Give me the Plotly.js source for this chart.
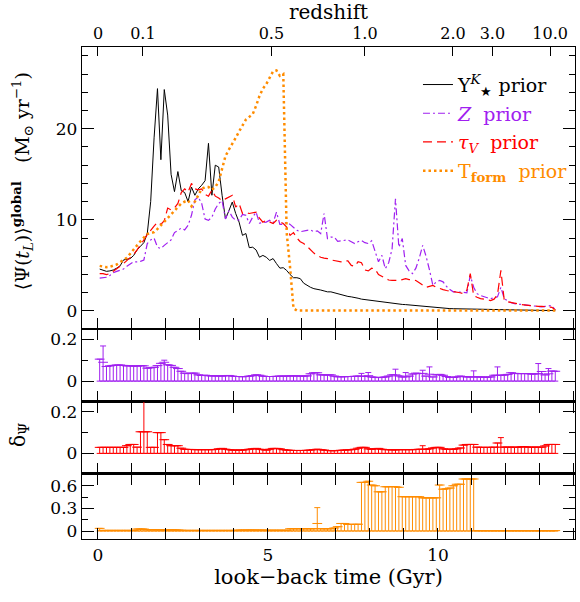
<!DOCTYPE html>
<html>
<head>
<meta charset="utf-8">
<script src="https://cdn.plot.ly/plotly-3.0.1.min.js"></script>
<style>
  html, body { margin: 0; padding: 0; background: #fff; }
  #chart { width: 580px; height: 602px; }
</style>
</head>
<body>
<div id="chart"></div>
<script>
// Look-back time bin centres (Gyr)
const tGyr = [
  0.05, 0.15, 0.25, 0.35, 0.45, 0.55, 0.65, 0.75, 0.85, 0.95,
  1.05, 1.15, 1.25, 1.35, 1.45, 1.55, 1.65, 1.75, 1.85, 1.95,
  2.05, 2.15, 2.25, 2.35, 2.45, 2.55, 2.65, 2.75, 2.85, 2.95,
  3.05, 3.15, 3.25, 3.35, 3.45, 3.55, 3.65, 3.75, 3.85, 3.95,
  4.05, 4.15, 4.25, 4.35, 4.45, 4.55, 4.65, 4.75, 4.85, 4.95,
  5.05, 5.15, 5.25, 5.35, 5.45, 5.55, 5.65, 5.75, 5.85, 5.95,
  6.05, 6.15, 6.25, 6.35, 6.45, 6.55, 6.65, 6.75, 6.85, 6.95,
  7.05, 7.15, 7.25, 7.35, 7.45, 7.55, 7.65, 7.75, 7.85, 7.95,
  8.05, 8.15, 8.25, 8.35, 8.45, 8.55, 8.65, 8.75, 8.85, 8.95,
  9.05, 9.15, 9.25, 9.35, 9.45, 9.55, 9.65, 9.75, 9.85, 9.95,
  10.05, 10.15, 10.25, 10.35, 10.45, 10.55, 10.65, 10.75, 10.85, 10.95,
  11.05, 11.15, 11.25, 11.35, 11.45, 11.55, 11.65, 11.75, 11.85, 11.95,
  12.05, 12.15, 12.25, 12.35, 12.45, 12.55, 12.65, 12.75, 12.85, 12.95,
  13.05, 13.15, 13.25, 13.35, 13.45
];

// Global star formation history <Psi(t_L)> (Msun/yr) for each prior
const sfrUpsilon = [
  4.6, 4.5, 4.35, 4.4, 4.5, 4.7, 4.95, 5.6, 5.65, 5.75,
  6.1, 6.7, 7.1, 7.5, 8.5, 12.0, 19.0, 24.4, 16.6, 24.3,
  21.5, 15.0, 13.1, 15.3, 13.2, 13.0, 12.0, 13.6, 12.7, 13.4,
  13.8, 14.3, 18.4, 12.7, 16.0, 15.8, 12.7, 10.1, 11.0, 11.95,
  10.7, 9.75, 8.3, 8.5, 6.95, 7.0, 6.7, 5.9, 6.1, 5.9,
  5.55, 5.75, 5.2, 4.7, 4.75, 4.45, 4.0, 3.65, 3.65, 3.55,
  3.05, 2.8, 2.6, 2.45, 2.4, 2.3, 2.2, 2.1, 2.1, 2.0,
  1.9, 1.75, 1.65, 1.6, 1.55, 1.5, 1.4, 1.3, 1.25, 1.15,
  1.1, 1.05, 1.0, 0.95, 0.9, 0.85, 0.82, 0.78, 0.75, 0.72,
  0.7, 0.66, 0.63, 0.6, 0.57, 0.55, 0.52, 0.48, 0.45, 0.38,
  0.3, 0.28, 0.27, 0.26, 0.25, 0.24, 0.23, 0.22, 0.22, 0.21,
  0.2, 0.19, 0.18, 0.18, 0.17, 0.16, 0.16, 0.15, 0.15, 0.14,
  0.13, 0.12, 0.12, 0.11, 0.1, 0.1, 0.09, 0.08, 0.08, 0.07,
  0.07, 0.06, 0.05, 0.05, 0.04
];
const sfrZ = [
  3.6, 3.65, 3.7, 3.9, 4.2, 4.35, 4.45, 4.6, 4.9, 5.2,
  5.4, 5.4, 5.45, 5.6, 7.4, 7.8, 8.0, 7.0, 6.85, 7.2,
  7.5, 7.8, 8.6, 8.9, 9.1, 8.9, 9.4, 10.5, 12.2, 12.5,
  11.8, 10.1, 9.95, 10.3, 11.2, 11.8, 12.1, 10.1, 11.0, 10.3,
  9.95, 10.0, 10.6, 10.5, 9.6, 10.3, 10.85, 9.65, 9.7, 9.75,
  9.95, 9.65, 10.85, 9.5, 9.5, 9.75, 9.5, 9.2, 8.85, 8.7,
  8.8, 8.85, 8.9, 8.7, 8.8, 8.5, 10.7, 7.95, 8.1, 8.1,
  7.65, 7.7, 7.75, 7.8, 7.6, 7.4, 7.6, 7.75, 7.5, 7.4,
  7.7, 6.5, 5.4, 6.1, 4.65, 5.3, 6.8, 12.3, 7.0, 7.95,
  5.0, 4.4, 4.1, 4.7, 5.8, 7.2, 6.0, 4.5, 2.8, 3.2,
  3.35, 3.2, 2.7, 2.35, 2.1, 2.1, 2.1, 2.05, 2.0, 3.9,
  2.6, 1.9, 1.7, 1.55, 1.45, 1.35, 1.45, 1.55, 2.6, 1.35,
  1.1, 0.9, 0.8, 0.75, 0.7, 0.65, 0.6, 0.55, 0.5, 0.45,
  0.45, 0.5, 0.55, 0.6, 0.1
];
const sfrTauV = [
  4.1, 4.1, 4.0, 4.1, 4.35, 4.6, 4.9, 5.2, 5.5, 5.85,
  6.2, 6.7, 7.2, 7.8, 8.4, 8.9, 9.3, 9.75, 9.5, 9.9,
  11.3, 11.1, 11.3, 11.8, 13.0, 13.4, 13.05, 14.0, 13.4, 13.3,
  13.4, 12.8, 12.6, 13.25, 12.6, 12.4, 12.1, 12.3, 12.5, 12.7,
  11.4, 11.8, 10.7, 10.8, 10.7, 10.8, 10.85, 10.2, 9.75, 9.95,
  9.8, 9.6, 9.95, 9.8, 9.6, 9.2, 8.3, 8.6, 8.0, 7.6,
  7.4, 7.1, 6.7, 6.35, 6.1, 5.9, 5.8, 5.75, 5.6, 5.55,
  5.45, 5.4, 5.5, 5.5, 5.0, 4.9, 5.4, 5.3, 4.5, 4.4,
  4.7, 4.6, 4.0, 3.8, 3.6, 3.4, 3.35, 3.35, 3.35, 3.45,
  3.55, 3.45, 3.4, 3.35, 3.1, 2.85, 2.6, 2.7, 2.8, 2.6,
  2.45, 2.35, 2.25, 2.2, 2.1, 2.05, 2.0, 1.9, 2.3, 4.1,
  1.7, 1.5, 1.35, 1.3, 1.2, 1.15, 1.3, 1.8, 4.45, 1.15,
  1.0, 0.95, 0.9, 0.8, 0.7, 0.65, 0.6, 0.58, 0.55, 0.5,
  0.5, 0.48, 0.45, 0.4, 0.1
];
const sfrTform = [
  4.95, 4.85, 4.8, 4.85, 5.0, 5.1, 5.35, 5.6, 5.85, 6.3,
  6.7, 7.2, 7.65, 8.05, 8.45, 8.55, 8.65, 9.0, 9.4, 9.8,
  10.3, 10.65, 11.05, 11.4, 11.8, 12.0, 12.15, 11.5, 12.0, 12.7,
  13.4, 13.6, 13.6, 13.3, 13.6, 14.2, 15.5, 17.0, 17.7, 18.3,
  19.0, 19.7, 20.3, 21.0, 21.3, 21.6, 22.5, 23.6, 24.4, 24.9,
  25.6, 26.3, 26.4, 25.8, 26.0, 8.6, 4.8, 0.3, 0.05, 0.05,
  0.05, 0.05, 0.05, 0.05, 0.05, 0.05, 0.05, 0.05, 0.05, 0.05,
  0.05, 0.05, 0.05, 0.05, 0.05, 0.05, 0.05, 0.05, 0.05, 0.05,
  0.05, 0.05, 0.05, 0.05, 0.05, 0.05, 0.05, 0.05, 0.05, 0.05,
  0.05, 0.05, 0.05, 0.05, 0.05, 0.05, 0.05, 0.05, 0.05, 0.05,
  0.05, 0.05, 0.05, 0.05, 0.05, 0.05, 0.05, 0.05, 0.05, 0.05,
  0.05, 0.05, 0.05, 0.05, 0.05, 0.05, 0.05, 0.05, 0.05, 0.05,
  0.05, 0.05, 0.05, 0.05, 0.05, 0.05, 0.05, 0.05, 0.05, 0.05,
  0.05, 0.05, 0.05, 0.05, 0.05
];

// Relative deviation delta_Psi of each prior, with extra upper error
const deltaZ = [
  0.105, 0.09, 0.07, 0.073, 0.075, 0.077, 0.077, 0.075, 0.073, 0.073,
  0.072, 0.072, 0.074, 0.073, 0.062, 0.064, 0.066, 0.074, 0.085, 0.09,
  0.078, 0.075, 0.066, 0.06, 0.047, 0.038, 0.036, 0.038, 0.038, 0.03,
  0.027, 0.028, 0.026, 0.025, 0.025, 0.025, 0.024, 0.026, 0.027, 0.024,
  0.022, 0.022, 0.021, 0.022, 0.024, 0.026, 0.03, 0.028, 0.024, 0.022,
  0.022, 0.022, 0.023, 0.024, 0.024, 0.024, 0.025, 0.025, 0.025, 0.024,
  0.024, 0.025, 0.035, 0.04, 0.04, 0.03, 0.03, 0.029, 0.03, 0.024,
  0.021, 0.021, 0.021, 0.022, 0.022, 0.023, 0.024, 0.024, 0.022, 0.026,
  0.02, 0.018, 0.017, 0.018, 0.02, 0.024, 0.03, 0.03, 0.025, 0.02,
  0.02, 0.024, 0.034, 0.038, 0.036, 0.037, 0.024, 0.033, 0.02, 0.03,
  0.032, 0.028, 0.022, 0.018, 0.018, 0.02, 0.024, 0.022, 0.02, 0.02,
  0.02, 0.02, 0.02, 0.019, 0.019, 0.02, 0.028, 0.028, 0.028, 0.029,
  0.032, 0.04, 0.037, 0.036, 0.036, 0.036, 0.036, 0.034, 0.034, 0.036,
  0.046, 0.03, 0.035, 0.048, 0.047
];
const deltaZErr = [
  0, 0.078, 0, 0, 0, 0, 0, 0, 0, 0,
  0, 0, 0, 0, 0, 0, 0, 0, 0, 0.01,
  0, 0, 0, 0, 0, 0, 0, 0, 0, 0,
  0, 0, 0, 0, 0, 0, 0, 0, 0, 0,
  0, 0, 0, 0, 0, 0, 0, 0, 0, 0,
  0, 0, 0, 0, 0, 0, 0, 0, 0, 0,
  0, 0, 0, 0, 0, 0, 0, 0, 0, 0,
  0, 0, 0, 0, 0, 0, 0, 0.013, 0, 0.015,
  0, 0, 0, 0, 0, 0, 0, 0.027, 0, 0,
  0.021, 0, 0, 0, 0, 0.015, 0, 0.035, 0, 0,
  0, 0, 0, 0, 0, 0, 0, 0, 0, 0,
  0.029, 0, 0, 0, 0, 0, 0, 0.04, 0, 0,
  0, 0, 0, 0, 0, 0, 0, 0, 0, 0.048,
  0, 0, 0.025, 0, 0
];
const deltaTauV = [
  0.029, 0.029, 0.029, 0.029, 0.029, 0.029, 0.029, 0.029, 0.037, 0.043,
  0.043, 0.03, 0.104, 0.104, 0.104, 0.029, 0.029, 0.1, 0.1, 0.066,
  0.043, 0.037, 0.037, 0.037, 0.025, 0.02, 0.019, 0.019, 0.018, 0.018,
  0.018, 0.018, 0.018, 0.018, 0.019, 0.022, 0.024, 0.02, 0.018, 0.016,
  0.016, 0.016, 0.016, 0.018, 0.02, 0.022, 0.024, 0.02, 0.018, 0.016,
  0.02, 0.024, 0.024, 0.022, 0.018, 0.016, 0.015, 0.014, 0.014, 0.014,
  0.014, 0.015, 0.016, 0.018, 0.02, 0.018, 0.016, 0.014, 0.013, 0.013,
  0.014, 0.015, 0.016, 0.017, 0.018, 0.02, 0.025, 0.029, 0.029, 0.022,
  0.02, 0.022, 0.024, 0.02, 0.018, 0.018, 0.017, 0.017, 0.018, 0.018,
  0.018, 0.018, 0.018, 0.019, 0.02, 0.02, 0.02, 0.022, 0.026, 0.029,
  0.029, 0.022, 0.02, 0.02, 0.02, 0.022, 0.026, 0.04, 0.043, 0.043,
  0.043, 0.03, 0.029, 0.029, 0.029, 0.029, 0.03, 0.05, 0.03, 0.03,
  0.03, 0.03, 0.03, 0.029, 0.032, 0.032, 0.03, 0.03, 0.03, 0.03,
  0.03, 0.036, 0.043, 0.043, 0.043
];
const deltaTauVErr = [
  0, 0, 0, 0, 0, 0, 0, 0, 0, 0,
  0, 0, 0, 0.2, 0, 0, 0, 0, 0, 0,
  0, 0, 0, 0, 0, 0, 0, 0, 0, 0,
  0, 0, 0, 0, 0, 0, 0, 0, 0, 0,
  0, 0, 0, 0, 0, 0, 0, 0, 0, 0,
  0, 0, 0, 0, 0, 0, 0, 0, 0, 0,
  0, 0, 0, 0, 0, 0, 0, 0, 0, 0,
  0, 0, 0, 0, 0, 0, 0, 0, 0, 0,
  0, 0, 0, 0, 0, 0, 0, 0, 0, 0,
  0, 0, 0, 0, 0, 0.017, 0, 0, 0, 0,
  0, 0, 0, 0, 0, 0, 0, 0, 0, 0,
  0, 0, 0, 0, 0, 0, 0, 0, 0.046, 0,
  0, 0, 0, 0, 0, 0, 0, 0, 0, 0,
  0, 0, 0, 0, 0
];
const deltaTform = [
  0.035, 0.008, 0.008, 0.008, 0.008, 0.008, 0.008, 0.008, 0.008, 0.008,
  0.008, 0.026, 0.026, 0.026, 0.018, 0.015, 0.018, 0.015, 0.015, 0.013,
  0.013, 0.015, 0.015, 0.013, 0.01, 0.008, 0.008, 0.008, 0.008, 0.008,
  0.008, 0.008, 0.008, 0.008, 0.008, 0.008, 0.008, 0.008, 0.008, 0.008,
  0.008, 0.012, 0.012, 0.012, 0.013, 0.013, 0.012, 0.012, 0.012, 0.01,
  0.01, 0.01, 0.01, 0.01, 0.01, 0.01, 0.03, 0.03, 0.03, 0.03,
  0.03, 0.03, 0.03, 0.03, 0.1, 0.03, 0.03, 0.03, 0.03, 0.04,
  0.057, 0.1, 0.1, 0.088, 0.088, 0.088, 0.09, 0.645, 0.645, 0.66,
  0.61, 0.6, 0.52, 0.52, 0.587, 0.587, 0.59, 0.587, 0.58, 0.455,
  0.455, 0.455, 0.455, 0.455, 0.455, 0.44, 0.44, 0.44, 0.44, 0.44,
  0.61, 0.555, 0.56, 0.57, 0.6, 0.62, 0.62, 0.69, 0.69, 0.69,
  0.69, 0.005, 0.005, 0.005, 0.005, 0.005, 0.005, 0.005, 0.005, 0.005,
  0.005, 0.005, 0.005, 0.005, 0.005, 0.005, 0.005, 0.005, 0.005, 0.005,
  0.005, 0.005, 0.005, 0.005, 0.005
];
const deltaTformErr = [
  0, 0, 0, 0, 0, 0, 0, 0, 0, 0,
  0, 0, 0, 0, 0, 0, 0, 0, 0, 0,
  0, 0, 0, 0, 0, 0, 0, 0, 0, 0,
  0, 0, 0, 0, 0, 0, 0, 0, 0, 0,
  0, 0, 0, 0, 0, 0, 0, 0, 0, 0,
  0, 0, 0, 0, 0, 0, 0, 0, 0, 0,
  0, 0, 0, 0, 0.21, 0, 0, 0, 0, 0,
  0, 0, 0, 0, 0, 0, 0, 0, 0, 0,
  0, 0, 0, 0, 0, 0, 0, 0, 0, 0,
  0, 0, 0, 0, 0, 0, 0, 0, 0, 0,
  0, 0, 0, 0, 0, 0, 0, 0, 0, 0,
  0, 0, 0, 0, 0, 0, 0, 0, 0, 0,
  0, 0, 0, 0, 0, 0, 0, 0, 0, 0,
  0, 0, 0, 0, 0
];

// Redshift labels on the top axis and their look-back times (Gyr)
const zTickLabels = ['0', '0.1', '0.5', '1.0', '2.0', '3.0', '10.0'];
const zTickTimes = [0.0, 1.32, 5.1, 7.85, 10.44, 11.6, 13.3];

const FONT = 'DejaVu Serif, serif';
const C_PURPLE = '#a020f0';
const C_RED = '#ff0000';
const C_ORANGE = '#ff8c00';
const X_RANGE = [-0.47, 14.03];
const LINE_W = 1.2;

function sfrTrace(y, name, color, width, dash) {
  return {
    x: tGyr, y: y, name: name, type: 'scatter', mode: 'lines',
    line: { color: color, width: width, dash: dash },
    xaxis: 'x', yaxis: 'y', legendgroup: name, hoverinfo: 'skip'
  };
}

function deltaTrace(y, err, color, ax) {
  return {
    x: tGyr, y: y, type: 'scatter', mode: 'markers',
    marker: { symbol: 'line-ew', size: 7, color: color, line: { color: color, width: 1 } },
    error_y: { type: 'data', symmetric: false, array: err, arrayminus: y,
               color: color, thickness: 1, width: 3 },
    xaxis: 'x' + ax, yaxis: 'y' + ax, showlegend: false, hoverinfo: 'skip'
  };
}

// invisible carrier so the redshift axis on top gets drawn
const redshiftCarrier = {
  x: zTickTimes, y: zTickTimes.map(function () { return 0; }),
  type: 'scatter', mode: 'markers', marker: { opacity: 0, size: 1 },
  xaxis: 'x5', yaxis: 'y', showlegend: false, hoverinfo: 'skip'
};

const traces = [
  sfrTrace(sfrUpsilon, 'Υ<sup><i>K</i></sup><sub>★</sub> prior', '#000000', 1, 'solid'),
  sfrTrace(sfrZ, '<span style="color:' + C_PURPLE + '"><i>Z</i>  prior</span>', C_PURPLE, 1.2, '7px,3px,2px,3px'),
  sfrTrace(sfrTauV, '<span style="color:' + C_RED + '"><i>τ<sub>V</sub></i>  prior</span>', C_RED, 1.2, '9px,5px'),
  sfrTrace(sfrTform, '<span style="color:' + C_ORANGE + '">T<sub><b>form</b></sub>  prior</span>', C_ORANGE, 2.5, '2.5px,3px'),
  deltaTrace(deltaZ, deltaZErr, C_PURPLE, '2'),
  deltaTrace(deltaTauV, deltaTauVErr, C_RED, '3'),
  deltaTrace(deltaTform, deltaTformErr, C_ORANGE, '4'),
  redshiftCarrier
];

const tickFont = { family: FONT, size: 17, color: '#000' };

function xAxis(anchor, extra) {
  return Object.assign({
    anchor: anchor, range: X_RANGE, showline: true, linecolor: '#000', linewidth: LINE_W,
    mirror: 'ticks', ticks: 'inside', ticklen: 11, tickwidth: 1, tickcolor: '#000',
    tick0: 0, dtick: 5,
    minor: { ticks: 'inside', dtick: 1, ticklen: 11, tickwidth: 1, tickcolor: '#000' },
    showgrid: false, zeroline: false, showticklabels: false, tickfont: tickFont
  }, extra || {});
}

function yAxis(domain, range, dtick, minorDtick, extra) {
  return Object.assign({
    domain: domain, range: range, showline: true, linecolor: '#000', linewidth: LINE_W,
    mirror: 'ticks', ticks: 'inside', ticklen: 12, tickwidth: 1, tickcolor: '#000',
    tick0: 0, dtick: dtick,
    minor: { ticks: 'inside', dtick: minorDtick, ticklen: 6, tickwidth: 1, tickcolor: '#000' },
    showgrid: false, zeroline: false, tickfont: tickFont
  }, extra || {});
}

const layout = {
  width: 580, height: 602, autosize: false,
  margin: { l: 82, r: 5, t: 46.5, b: 63, pad: 0 },
  paper_bgcolor: '#fff', plot_bgcolor: '#fff',
  showlegend: true,
  legend: {
    x: 0.6815, y: 0.962, xanchor: 'left', yanchor: 'top',
    bgcolor: 'rgba(0,0,0,0)', borderwidth: 0, tracegroupgap: 1,
    font: { family: FONT, size: 19, color: '#000' }
  },
  xaxis: xAxis('y', { mirror: true }),
  xaxis2: xAxis('y2'),
  xaxis3: xAxis('y3'),
  xaxis4: xAxis('y4', {
    showticklabels: true,
    title: { text: 'look−back time (Gyr)', font: { family: FONT, size: 21, color: '#000' }, standoff: 5 }
  }),
  xaxis5: {
    overlaying: 'x', anchor: 'y', side: 'top', range: X_RANGE,
    tickmode: 'array', tickvals: zTickTimes, ticktext: zTickLabels,
    ticks: 'inside', ticklen: 9, tickwidth: 1, tickcolor: '#000',
    ticklabelstandoff: 4,
    showline: false, showgrid: false, zeroline: false,
    tickfont: { family: FONT, size: 16, color: '#000' },
    title: { text: 'redshift', font: { family: FONT, size: 20, color: '#000' }, standoff: 0 }
  },
  yaxis: yAxis([0.4264, 1], [-2.0, 28.97], 10, 2),
  yaxis2: yAxis([0.2792, 0.4264], [-0.098, 0.248], 0.2, 0.1),
  yaxis3: yAxis([0.1330, 0.2792], [-0.097, 0.249], 0.2, 0.1),
  yaxis4: yAxis([0, 0.1330], [-0.106, 0.762], 0.3, 0.15),
  annotations: [
    {
      xref: 'paper', yref: 'paper', x: -0.122, y: 0.727, xanchor: 'center', yanchor: 'middle',
      textangle: -90, showarrow: false,
      text: '⟨Ψ(<i>t</i><sub><i>L</i></sub>)⟩<sup><b>global</b></sup>   (M<sub>⊙</sub> yr<sup>−1</sup>)',
      font: { family: FONT, size: 19, color: '#000' }
    },
    {
      xref: 'paper', yref: 'paper', x: -0.128, y: 0.211, xanchor: 'center', yanchor: 'middle',
      textangle: -90, showarrow: false,
      text: 'δ<sub>Ψ</sub>',
      font: { family: FONT, size: 20, color: '#000' }
    }
  ]
};

Plotly.newPlot('chart', traces, layout, { staticPlot: true, displayModeBar: false });
</script>
</body>
</html>
